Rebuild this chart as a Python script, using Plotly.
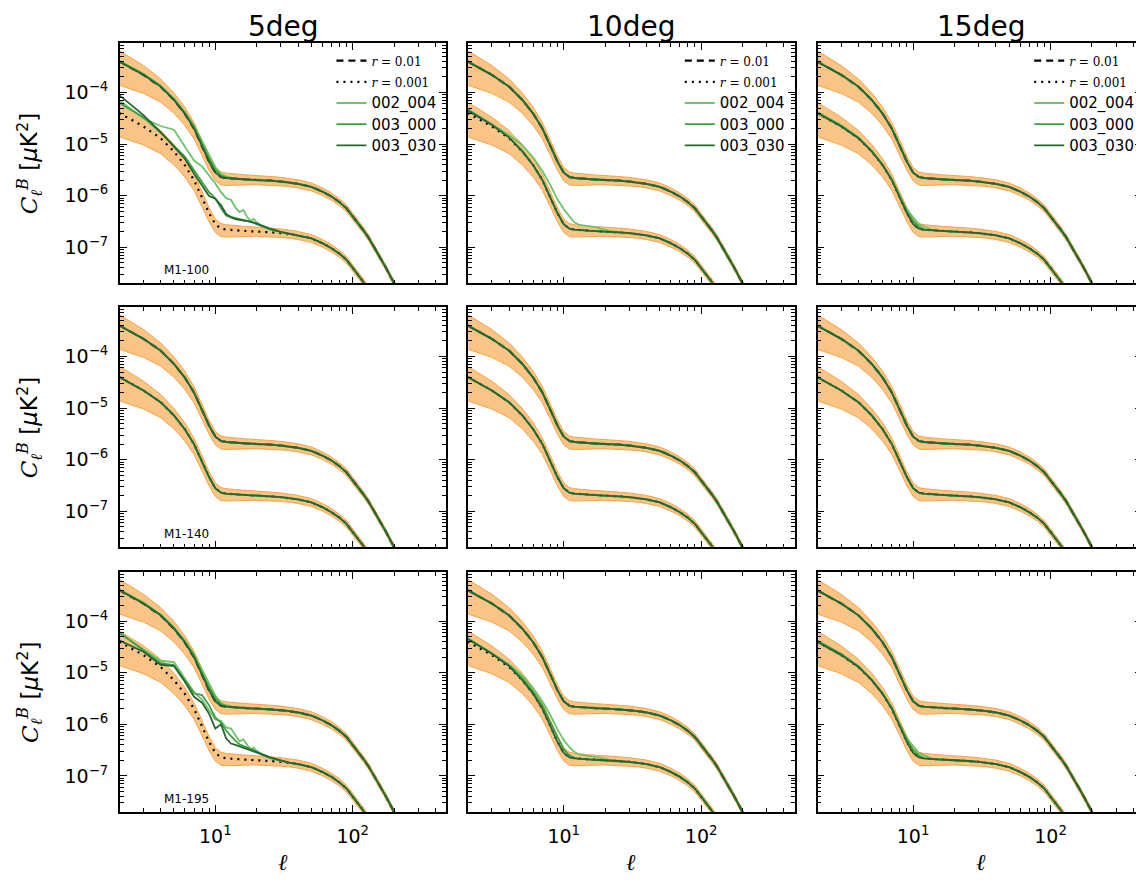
import plotly.graph_objects as go
from plotly.subplots import make_subplots

# page body has an 8px margin: the figure is sized and placed to compensate
OFF = 8
W, H = 1144 - OFF, 881 - OFF

# ---------------- data ----------------
ell = [2, 3, 4, 5, 6, 7, 8, 9, 10, 11, 12, 13, 14, 15, 16, 17, 18, 19, 20, 22, 25, 30,
       35, 40, 50, 60, 70, 80, 90, 100, 110, 120, 130, 140, 150, 160, 170, 180, 190, 200, 220, 250]

# input model, r = 0.01
cl_r0p01 = [4.0e-4, 2.2e-4, 1.3e-4, 7.2e-5, 3.9e-5, 2.0e-5, 9.2e-6, 4.6e-6, 2.8e-6, 2.3e-6,
            2.2e-6, 2.15e-6, 2.12e-6, 2.1e-6, 2.08e-6, 2.06e-6, 2.05e-6, 2.04e-6, 2.02e-6, 1.99e-6,
            1.95e-6, 1.88e-6, 1.8e-6, 1.7e-6, 1.48e-6, 1.2e-6, 9.6e-7, 7.5e-7, 5.7e-7, 4.0e-7,
            2.9e-7, 2.1e-7, 1.55e-7, 1.12e-7, 8.2e-8, 6.0e-8, 4.5e-8, 3.4e-8, 2.6e-8, 2.0e-8,
            1.1e-8, 4.5e-9]

# input model, r = 0.001
cl_r0p001 = [4.0e-5, 2.2e-5, 1.3e-5, 7.2e-6, 3.9e-6, 2.0e-6, 9.2e-7, 4.6e-7, 2.8e-7, 2.3e-7,
             2.2e-7, 2.15e-7, 2.12e-7, 2.1e-7, 2.08e-7, 2.06e-7, 2.05e-7, 2.04e-7, 2.02e-7, 1.99e-7,
             1.95e-7, 1.88e-7, 1.8e-7, 1.7e-7, 1.48e-7, 1.2e-7, 9.6e-8, 7.5e-8, 5.7e-8, 4.0e-8,
             2.9e-8, 2.1e-8, 1.55e-8, 1.12e-8, 8.2e-9, 6.0e-9, 4.5e-9, 3.4e-9, 2.6e-9, 2.0e-9,
             1.1e-9, 4.5e-10]

# half-widths of the orange uncertainty band, in decades (above / below the model)
band_up_dex = [0.21, 0.18, 0.15, 0.135, 0.125, 0.115, 0.11, 0.105, 0.10, 0.097, 0.095, 0.093,
               0.092, 0.09, 0.089, 0.088, 0.087, 0.086, 0.085, 0.083, 0.082, 0.08, 0.078, 0.077,
               0.075, 0.072, 0.07, 0.067, 0.064, 0.061, 0.059, 0.057, 0.055, 0.054, 0.053, 0.052,
               0.051, 0.05, 0.05, 0.05, 0.05, 0.05]
band_dn_dex = [0.46, 0.36, 0.30, 0.26, 0.23, 0.20, 0.18, 0.17, 0.16, 0.155, 0.145, 0.13,
               0.12, 0.115, 0.11, 0.105, 0.10, 0.097, 0.094, 0.09, 0.087, 0.085, 0.082, 0.08,
               0.078, 0.075, 0.072, 0.069, 0.066, 0.062, 0.06, 0.058, 0.056, 0.055, 0.054, 0.053,
               0.052, 0.051, 0.05, 0.05, 0.05, 0.05]

# recovered spectra where they depart from the input (l = 2 ... 30), lower (r=0.001) curves
low_5deg_M1100_002_004 = [7.05e-5, 3.15e-5, 2.24e-5, 1.9e-5, 9.0e-6, 4.8e-6, 3.7e-6, 2.46e-6, 1.72e-6,
                          1.17e-6, 8.9e-7, 8.3e-7, 5.9e-7, 4.8e-7, 5.3e-7, 3.9e-7, 3.25e-7, 3.55e-7,
                          3.05e-7, 2.56e-7, 2.2e-7, 1.95e-7]
low_5deg_M1100_003_000 = [6.3e-5, 3.3e-5, 1.66e-5, 9.2e-6, 5.7e-6, 3.1e-6, 1.88e-6, 1.17e-6, 8.9e-7,
                          5.7e-7, 4.1e-7, 3.9e-7, 3.66e-7, 3.5e-7, 3.34e-7, 3.3e-7, 3.16e-7, 3.0e-7,
                          2.8e-7, 2.52e-7, 2.25e-7, 1.97e-7]
low_5deg_M1100_003_030 = [8.9e-5, 3.65e-5, 1.71e-5, 8.9e-6, 5.2e-6, 2.69e-6, 1.53e-6, 9.8e-7, 8.7e-7,
                          6.5e-7, 4.4e-7, 3.8e-7, 3.5e-7, 3.34e-7, 3.3e-7, 3.25e-7, 3.16e-7, 3.0e-7,
                          2.86e-7, 2.6e-7, 2.3e-7, 1.98e-7]

low_5deg_M1195_002_004 = [5.8e-5, 2.84e-5, 1.71e-5, 1.61e-5, 8.0e-6, 4.2e-6, 3.03e-6, 1.88e-6, 1.24e-6,
                          1.17e-6, 8.7e-7, 8.3e-7, 6.2e-7, 4.7e-7, 5.1e-7, 4.1e-7, 3.25e-7, 3.55e-7,
                          3.05e-7, 2.56e-7, 2.2e-7, 1.95e-7]
low_5deg_M1195_003_000 = [6.1e-5, 2.7e-5, 1.54e-5, 1.41e-5, 7.3e-6, 4.0e-6, 3.7e-6, 2.36e-6, 1.36e-6,
                          1.07e-6, 7.5e-7, 5.9e-7, 4.8e-7, 4.1e-7, 3.75e-7, 3.55e-7, 3.4e-7, 3.16e-7,
                          3.0e-7, 2.65e-7, 2.3e-7, 1.97e-7]
low_5deg_M1195_003_030 = [4.25e-5, 2.56e-5, 1.43e-5, 1.35e-5, 6.7e-6, 3.42e-6, 2.63e-6, 1.62e-6, 8.3e-7,
                          1.0e-6, 5.3e-7, 4.25e-7, 4.0e-7, 3.75e-7, 3.55e-7, 3.4e-7, 3.25e-7, 3.05e-7,
                          2.86e-7, 2.6e-7, 2.3e-7, 1.98e-7]

low_10deg_M1100_002_004 = [4.8e-5, 2.4e-5, 1.5e-5, 9.5e-6, 5.5e-6, 3.0e-6, 1.6e-6, 8.5e-7, 5.5e-7,
                           4.0e-7, 3.0e-7, 2.7e-7, 2.6e-7, 2.55e-7, 2.5e-7, 2.45e-7, 2.35e-7, 2.25e-7,
                           2.15e-7, 2.05e-7, 1.98e-7, 1.9e-7]
low_10deg_M1100_003_000 = [4.6e-5, 2.4e-5, 1.35e-5, 7.4e-6]
low_10deg_M1100_003_030 = [4.5e-5, 2.35e-5, 1.35e-5]

low_10deg_M1195_002_004 = [4.7e-5, 2.4e-5, 1.45e-5, 8.8e-6, 5.0e-6, 2.8e-6, 1.5e-6, 8.0e-7, 5.0e-7,
                           3.6e-7, 2.9e-7, 2.6e-7, 2.5e-7, 2.45e-7, 2.4e-7, 2.35e-7, 2.28e-7, 2.2e-7,
                           2.12e-7, 2.03e-7, 1.96e-7, 1.9e-7]
low_10deg_M1195_003_000 = [4.6e-5, 2.4e-5, 1.4e-5, 7.8e-6, 4.3e-6, 2.3e-6, 1.1e-6, 5.6e-7, 3.3e-7,
                           2.5e-7, 2.25e-7]
low_10deg_M1195_003_030 = [4.5e-5, 2.35e-5, 1.35e-5]

low_15deg_002_004 = [4.2e-5, 2.3e-5, 1.35e-5, 7.4e-6, 4.0e-6, 2.1e-6, 1.0e-6, 5.5e-7, 3.8e-7,
                     2.8e-7, 2.5e-7, 2.3e-7]
low_15deg_003_000 = [4.2e-5, 2.3e-5, 1.33e-5, 7.3e-6, 3.95e-6, 2.05e-6, 9.6e-7, 5.0e-7, 3.2e-7,
                     2.5e-7]

# upper (r=0.01) curves where the recovered spectra sit slightly above the input
up_5deg_002_004 = [4.1e-4, 2.3e-4, 1.35e-4, 7.6e-5, 4.2e-5, 2.3e-5, 1.15e-5, 6.0e-6, 3.6e-6,
                   2.6e-6, 2.35e-6, 2.25e-6]
up_5deg_003_000 = [4.05e-4, 2.25e-4, 1.32e-4, 7.4e-5, 4.0e-5, 2.15e-5, 1.0e-5, 5.2e-6, 3.2e-6,
                   2.45e-6, 2.25e-6]

col_titles = ["5deg", "10deg", "15deg"]
row_labels = ["M1-100", "M1-140", "M1-195"]
series_names = ["002_004", "003_000", "003_030"]

x_tick_vals = [10, 100]
x_tick_text = ["10<sup>1</sup>", "10<sup>2</sup>"]
y_tick_vals = [1e-7, 1e-6, 1e-5, 1e-4]
y_tick_text = ["10<sup>\u22127</sup>", "10<sup>\u22126</sup>", "10<sup>\u22125</sup>", "10<sup>\u22124</sup>"]

# ---------------- which curves depart from the model in each panel ----------------
low_custom = {
    (0, 0): [low_5deg_M1100_002_004, low_5deg_M1100_003_000, low_5deg_M1100_003_030],
    (2, 0): [low_5deg_M1195_002_004, low_5deg_M1195_003_000, low_5deg_M1195_003_030],
    (0, 1): [low_10deg_M1100_002_004, low_10deg_M1100_003_000, low_10deg_M1100_003_030],
    (2, 1): [low_10deg_M1195_002_004, low_10deg_M1195_003_000, low_10deg_M1195_003_030],
    (0, 2): [low_15deg_002_004, low_15deg_003_000, None],
    (2, 2): [low_15deg_002_004, low_15deg_003_000, None],
}
up_custom = {
    (0, 0): [up_5deg_002_004, up_5deg_003_000, None],
    (2, 0): [up_5deg_002_004, up_5deg_003_000, None],
}


def merged(custom, model):
    if custom is None:
        return list(model)
    return list(custom) + list(model[len(custom):])


band_r0p01_hi = [v * 10 ** u for v, u in zip(cl_r0p01, band_up_dex)]
band_r0p01_lo = [v * 10 ** (-d) for v, d in zip(cl_r0p01, band_dn_dex)]
band_r0p001_hi = [v * 10 ** u for v, u in zip(cl_r0p001, band_up_dex)]
band_r0p001_lo = [v * 10 ** (-d) for v, d in zip(cl_r0p001, band_dn_dex)]

# ---------------- styling ----------------
FILL = "#FAC486"
EDGE = "#F3A44A"
GREENS = ["#6CC46A", "#3F9F47", "#2A6430"]
SANS = "DejaVu Sans"
SERIF = "DejaVu Serif"


def px_x(p):
    return (p - OFF) / W


def px_y(p):
    return 1 - (p - OFF) / H


fig = make_subplots(rows=3, cols=3)

col_dom_px = [(120, 447), (469, 796), (819, 1144)]
row_dom_px = [(43.3, 283.3), (307.3, 547.3), (572, 812)]
x_ranges = [[0.305, 2.680], [0.305, 2.680], [0.305, 2.665]]
y_range = [-7.699, -3.046]

legend_names = ["legend", "legend2", "legend3"]
R_STYLE = "font-family:DejaVu Serif;font-size:12px"
G_STYLE = "font-size:15px"

for r in range(3):
    for c in range(3):
        show = (r == 0)
        lg = legend_names[c]
        # orange bands
        for lo, hi in ((band_r0p01_lo, band_r0p01_hi), (band_r0p001_lo, band_r0p001_hi)):
            fig.add_trace(go.Scatter(x=ell, y=lo, mode="lines", line=dict(color=EDGE, width=1),
                                     legend=lg, showlegend=False, hoverinfo="skip"), row=r + 1, col=c + 1)
            fig.add_trace(go.Scatter(x=ell, y=hi, mode="lines", line=dict(color=EDGE, width=1),
                                     fill="tonexty", fillcolor=FILL, legend=lg,
                                     showlegend=False, hoverinfo="skip"), row=r + 1, col=c + 1)
        # input models
        fig.add_trace(go.Scatter(x=ell, y=cl_r0p01, mode="lines",
                                 line=dict(color="black", width=2.2, dash="7px,5px"),
                                 name=f"<span style='{R_STYLE}'><i>r</i> = 0.01</span>",
                                 legend=lg, showlegend=show), row=r + 1, col=c + 1)
        fig.add_trace(go.Scatter(x=ell, y=cl_r0p001, mode="lines",
                                 line=dict(color="black", width=2.2, dash="2px,5px"),
                                 name=f"<span style='{R_STYLE}'><i>r</i> = 0.001</span>",
                                 legend=lg, showlegend=show), row=r + 1, col=c + 1)
        lows = low_custom.get((r, c), [None, None, None])
        ups = up_custom.get((r, c), [None, None, None])
        for k in range(3):
            yu = merged(ups[k], cl_r0p01)
            yl = merged(lows[k], cl_r0p001)
            fig.add_trace(go.Scatter(x=ell, y=yu, mode="lines",
                                     line=dict(color=GREENS[k], width=1.8),
                                     name=f"<span style='{G_STYLE}'>{series_names[k]}</span>",
                                     legend=lg, showlegend=show),
                          row=r + 1, col=c + 1)
            fig.add_trace(go.Scatter(x=ell, y=yl, mode="lines",
                                     line=dict(color=GREENS[k], width=1.8),
                                     name=series_names[k], legend=lg, showlegend=False),
                          row=r + 1, col=c + 1)

x_minor = [2, 3, 4, 5, 6, 7, 8, 9, 20, 30, 40, 50, 60, 70, 80, 90, 200, 300, 400]
y_minor = [m * 10 ** e for e in range(-8, -3) for m in range(2, 10)]

for r in range(3):
    for c in range(3):
        i = r * 3 + c + 1
        xn = "xaxis" if i == 1 else f"xaxis{i}"
        yn = "yaxis" if i == 1 else f"yaxis{i}"
        x0, x1 = col_dom_px[c]
        y0, y1 = row_dom_px[r]
        fig.layout[xn].update(
            type="log", range=x_ranges[c], domain=[px_x(x0), min(px_x(x1), 1.0)],
            showline=True, linecolor="black", linewidth=1.5, mirror="allticks",
            ticks="inside", ticklen=7, tickwidth=1, tickcolor="black",
            tickmode="array", tickvals=x_tick_vals, ticktext=x_tick_text,
            showticklabels=(r == 2), tickfont=dict(family=SANS, size=19, color="black"),
            ticklabelstandoff=6,
            showgrid=False, zeroline=False,
            minor=dict(tickmode="array", tickvals=x_minor, ticks="inside", ticklen=4,
                       tickwidth=1, tickcolor="black", showgrid=False),
        )
        fig.layout[yn].update(
            type="log", range=y_range, domain=[px_y(y1), px_y(y0)],
            showline=True, linecolor="black", linewidth=1.5, mirror="allticks",
            ticks="inside", ticklen=7, tickwidth=1, tickcolor="black",
            tickmode="array", tickvals=y_tick_vals, ticktext=y_tick_text,
            showticklabels=(c == 0), tickfont=dict(family=SANS, size=19, color="black"),
            ticklabelstandoff=6,
            showgrid=False, zeroline=False,
            minor=dict(tickmode="array", tickvals=y_minor, ticks="inside", ticklen=4,
                       tickwidth=1, tickcolor="black", showgrid=False),
        )

annotations = []
col_centers_px = [283.5, 632.5, 982.5]
for c in range(3):
    cx = px_x(col_centers_px[c])
    annotations.append(dict(x=cx, y=px_y(26.5), xref="paper", yref="paper", text=col_titles[c],
                            showarrow=False, font=dict(family=SANS, size=28, color="black"),
                            xanchor="center", yanchor="middle"))
    annotations.append(dict(x=cx, y=px_y(862), xref="paper", yref="paper", text="<i>\u2113</i>",
                            showarrow=False, font=dict(family=SERIF, size=23, color="black"),
                            xanchor="center", yanchor="middle"))
for r in range(3):
    cy = px_y((row_dom_px[r][0] + row_dom_px[r][1]) / 2)
    annotations.append(dict(
        x=px_x(29), y=cy, xref="paper", yref="paper", textangle=-90,
        text="<span style='font-family:DejaVu Serif'><i>C</i><sub><i>\u2113</i></sub><sup><i>B</i></sup></span> [<i>\u03bc</i>K<sup>2</sup>]",
        showarrow=False, font=dict(family=SANS, size=23, color="black"),
        xanchor="center", yanchor="middle"))
    annotations.append(dict(x=px_x(162), y=px_y(row_dom_px[r][1] - 13), xref="paper", yref="paper",
                            text=row_labels[r], showarrow=False,
                            font=dict(family=SANS, size=12, color="black"),
                            xanchor="left", yanchor="middle"))

legend_style = dict(bgcolor="rgba(0,0,0,0)", borderwidth=0, xanchor="left", yanchor="top",
                    font=dict(family=SANS, size=14, color="black"), itemwidth=30,
                    tracegroupgap=0, traceorder="normal")
layout_legends = {}
for c in range(3):
    layout_legends[legend_names[c]] = dict(legend_style, x=px_x(col_dom_px[c][0] + 212), y=px_y(45))

fig.update_layout(width=W, height=H, margin=dict(l=0, r=0, t=0, b=0),
                  paper_bgcolor="white", plot_bgcolor="white",
                  annotations=annotations, showlegend=True, **layout_legends)

fig.write_html("out.html")
